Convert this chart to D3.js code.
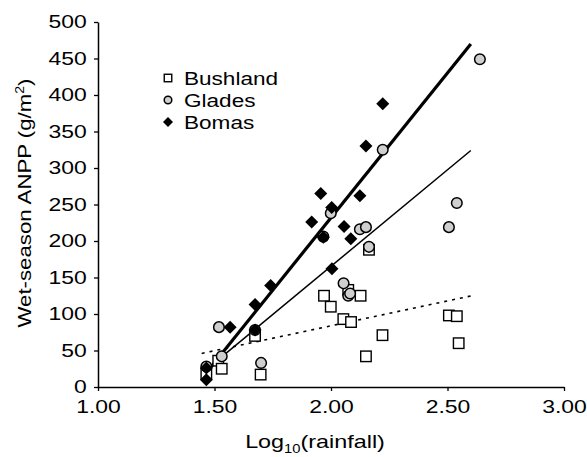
<!DOCTYPE html>
<html><head><meta charset="utf-8">
<script src="https://cdn.jsdelivr.net/npm/d3@7"></script>
<style>body{margin:0;background:#fff}svg{display:block}text{font-family:"Liberation Sans",Arial,sans-serif}</style>
</head><body>
<script>
const xTicks = [1.00, 1.50, 2.00, 2.50, 3.00];
const yTicks = [0, 50, 100, 150, 200, 250, 300, 350, 400, 450, 500];
const seriesNames = ["Bushland", "Glades", "Bomas"];
const bushland = [[1.465,18],[1.516,36],[1.531,25],[1.674,70],[1.698,17],[1.970,125],[1.999,110],[2.053,93],[2.074,133],[2.086,89],[2.127,125],[2.150,42],[2.163,188],[2.221,71],[2.506,98],[2.540,97],[2.548,60]];
const glades = [[1.465,28],[1.519,82],[1.531,42],[1.674,78],[1.700,33],[1.967,206],[1.999,238],[2.054,142],[2.074,125],[2.082,128],[2.124,216],[2.150,219],[2.163,192],[2.222,325],[2.506,219],[2.540,252],[2.639,449]];
const bomas = [[1.465,10],[1.465,26],[1.567,82],[1.674,78],[1.674,113],[1.741,139],[1.917,226],[1.956,265],[1.967,205],[2.003,246],[2.004,162],[2.056,220],[2.085,203],[2.124,262],[2.150,330],[2.222,388]];
const fitBushland = [[1.445,46],[2.604,125]];
const fitGlades = [[1.488,30],[2.600,324]];
const fitBomas = [[1.466,20],[2.600,470]];

const W = 587, H = 457;
const svg = d3.select("body").append("svg").attr("width", W).attr("height", H);
const x = d3.scaleLinear().domain([1, 3]).range([98, 564]);
const y = d3.scaleLinear().domain([0, 500]).range([387, 22]);

const fs = 18.5, kx = 1.24;
// axes
const xAxis = svg.append("g").attr("transform", `translate(0,${y(0)})`)
  .call(d3.axisBottom(x).tickValues(xTicks).tickFormat(d3.format(".2f")).tickSize(4).tickSizeOuter(0));
const yAxis = svg.append("g").attr("transform", `translate(${x(1)},0)`)
  .call(d3.axisLeft(y).tickValues(yTicks).tickFormat(d3.format("d")).tickSize(4).tickSizeOuter(0));
[xAxis, yAxis].forEach(g => {
  g.select(".domain").attr("stroke", "#000").attr("stroke-width", 1.5);
  g.selectAll(".tick line").attr("stroke", "#000").attr("stroke-width", 1.3);
  g.selectAll("text").attr("font-size", fs).attr("fill", "#000").style("font-family", '"Liberation Sans",Arial,sans-serif')
    .attr("transform", `scale(${kx},1)`);
});
xAxis.selectAll("text").attr("dy", "0.95em").attr("y", 8);
yAxis.selectAll("text").attr("x", -9);

// fit lines
const line = d3.line().x(d => x(d[0])).y(d => y(d[1]));
svg.append("path").datum(fitBushland).attr("d", line).attr("stroke", "#000").attr("stroke-width", 1.6).attr("stroke-dasharray", "3,5").attr("fill", "none");
svg.append("path").datum(fitGlades).attr("d", line).attr("stroke", "#000").attr("stroke-width", 1.5).attr("fill", "none");
svg.append("path").datum(fitBomas).attr("d", line).attr("stroke", "#000").attr("stroke-width", 3.2).attr("fill", "none");

// markers
function square(g, cx, cy, s) {
  g.append("rect").attr("x", cx - s/2).attr("y", cy - s/2).attr("width", s).attr("height", s)
    .attr("fill", "#fff").attr("stroke", "#000").attr("stroke-width", 1.4);
}
function circle(g, cx, cy, r) {
  g.append("circle").attr("cx", cx).attr("cy", cy).attr("r", r)
    .attr("fill", "#cfcfcf").attr("stroke", "#000").attr("stroke-width", 1.5);
}
function diamond(g, cx, cy, r) {
  g.append("path").attr("d", `M${cx},${cy-r}L${cx+r},${cy}L${cx},${cy+r}L${cx-r},${cy}Z`).attr("fill", "#000");
}
const mg = svg.append("g");
bushland.forEach(d => square(mg, x(d[0]), y(d[1]), 10.5));
glades.forEach(d => circle(mg, x(d[0]), y(d[1]), 5.3));
bomas.forEach(d => diamond(mg, x(d[0]), y(d[1]), 6.5));

// legend
const lg = svg.append("g");
const ly = [78, 100, 122];
square(lg, 168, ly[0], 7.5);
circle(lg, 168, ly[1], 3.8);
diamond(lg, 168, ly[2], 5);
seriesNames.forEach((n, i) => {
  lg.append("text").attr("transform", `translate(184,${ly[i] + 7}) scale(1.22,1)`)
    .attr("font-size", 18.5).attr("fill", "#000").text(n);
});

// axis titles
const yl = svg.append("text").attr("transform", `translate(31,203) rotate(-90) scale(1.17,1)`).attr("text-anchor", "middle").attr("font-size", 19).attr("fill", "#000");
yl.append("tspan").text("Wet-season ANPP (g/m");
yl.append("tspan").attr("font-size", 12).attr("dy", -7).text("2");
yl.append("tspan").attr("dy", 7).text(")");

const xl = svg.append("text").attr("transform", `translate(315,448) scale(1.23,1)`).attr("text-anchor", "middle").attr("font-size", 19).attr("fill", "#000");
xl.append("tspan").text("Log");
xl.append("tspan").attr("font-size", 12).attr("dy", 5).text("10");
xl.append("tspan").attr("dy", -5).text("(rainfall)");
</script>
</body></html>
